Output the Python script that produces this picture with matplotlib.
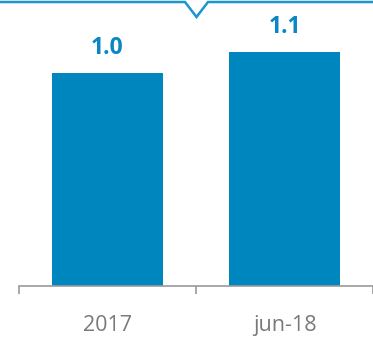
import matplotlib
matplotlib.use("Agg")
import matplotlib.pyplot as plt
from matplotlib.lines import Line2D

categories = ["2017", "jun-18"]
values = [1.0, 1.1]
value_labels = ["1.0", "1.1"]

W, H = 373, 339
fig = plt.figure(figsize=(W / 100, H / 100), dpi=100)
ax = fig.add_axes([19 / W, (H - 286) / H, 354 / W, 286 / H])

bar_color = "#0086BF"
x = list(range(len(categories)))
ax.bar(x, values, width=0.63, color=bar_color)
ax.set_xlim(-0.5, 1.5)
ax.set_ylim(0, 286 / 213)

for xi, v, lab in zip(x, values, value_labels):
    ax.annotate(lab, (xi, v), xytext=(0, 13.5), textcoords="offset points",
                ha="center", va="baseline", fontsize=16.5, fontweight="bold",
                color="#0A86C4", family="Open Sans")

for s in ["top", "right", "left"]:
    ax.spines[s].set_visible(False)
ax.spines["bottom"].set_color("#9a9a9a")
ax.spines["bottom"].set_linewidth(1.2)
ax.set_yticks([])
ax.set_xticks(x)
ax.set_xticklabels(categories, fontsize=15.5, color="#7a7a7a", family="Open Sans")
ax.tick_params(axis="x", which="major", length=0, pad=21)
ax.set_xticks([-0.5, 0.5, 1.5], minor=True)
ax.tick_params(axis="x", which="minor", length=6, width=1.2, color="#9a9a9a", direction="out")

# top decoration with V notch
px = [0, 185, 196.5, 208, 373]
py = [2, 2, 17, 2, 2]
fig.add_artist(Line2D([p / W for p in px], [1 - p / H for p in py],
                      transform=fig.transFigure, color="#1A96CF", lw=1.8,
                      solid_joinstyle="miter"))

fig.savefig("out.png", dpi=100)
